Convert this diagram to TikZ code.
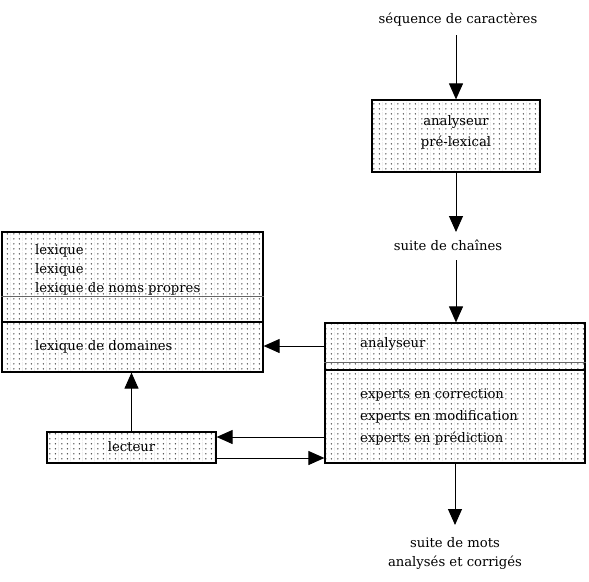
\documentclass[tikz,border=0pt]{standalone}
\usepackage{fontspec}
\setmainfont{DejaVu Serif}
\usetikzlibrary{arrows.meta,patterns.meta}
\tikzdeclarepattern{name=sdots,type=colored,bounding box={(0,0) and (12pt,5pt)},tile size={(12pt,5pt)},
  code={\fill[black] (2pt,2.5pt) circle (0.75pt);\fill[black] (8pt,2.5pt) circle (0.75pt);\draw[black!18,line width=0.4pt] (11pt,0) -- (11pt,5pt);}}
\tikzset{
  box/.style={draw,line width=1.2pt,pattern=sdots,inner sep=0pt},
  txt/.style={font=\fontsize{13.2}{15}\selectfont,inner sep=0pt},
  ltxt/.style={txt,anchor=west},
  arr/.style={line width=1pt,-{Triangle[length=16pt,width=14pt]}},
}
\begin{document}
\begin{tikzpicture}[x=1pt,y=-1pt]
\useasboundingbox (0,0) rectangle (589,581);
% top
\node[txt] (seq) at (458,20) {séquence de caractères};
\node[box,minimum width=168pt,minimum height=72pt] (pre) at (456,136) {};
\node[txt] (pre1) at (456,122) {analyseur};
\node[txt] (pre2) at (456,143) {pré-lexical};
\node[txt] (sc) at (448,245) {suite de chaînes};
% right box
\node[box,minimum width=260pt,minimum height=140pt] (R) at (455,393) {};
\draw[black!60,line width=0.4pt] (R.west |- 0,362) -- (R.east |- 0,362);
\draw[line width=1.2pt] (R.west |- 0,370) -- (R.east |- 0,370);
\node[ltxt] (ra) at (360,344) {analyseur};
\node[ltxt] (rc) at (360,395) {experts en correction};
\node[ltxt] (rm) at (360,417) {experts en modification};
\node[ltxt] (rp) at (360,439) {experts en prédiction};
% left box
\node[box,minimum width=261pt,minimum height=140pt] (L) at (132.5,302) {};
\draw[black!60,line width=0.4pt] (L.west |- 0,296) -- (L.east |- 0,296);
\draw[line width=1.2pt] (L.west |- 0,322) -- (L.east |- 0,322);
\node[ltxt] (l1) at (35,251) {lexique};
\node[ltxt] (l2) at (35,270) {lexique};
\node[ltxt] (l3) at (35,289) {lexique de noms propres};
\node[ltxt] (l4) at (35,347) {lexique de domaines};
% lecteur
\node[box,minimum width=169pt,minimum height=31pt] (lec) at (131.5,447.5) {};
\node[txt] (lect) at (131.5,447) {lecteur};
% bottom
\node[txt,align=center] (sm) at (455,553) {suite de mots\\[4pt]analysés et corrigés};
% arrows
\coordinate (c1) at (0,346);
\coordinate (c2) at (0,437);
\coordinate (c3) at (0,458);
\draw[arr] (456,35) -- (pre.north);
\draw[arr] (pre.south) -- (456,232);
\draw[arr] (456,260) -- (R.north -| 456,0);
\draw[arr] (R.west |- c1) -- (L.east |- c1);
\draw[arr] (lec.north) -- (L.south -| lec.north);
\draw[arr] (R.west |- c2) -- (lec.east |- c2);
\draw[arr] (lec.east |- c3) -- (R.west |- c3);
\draw[arr] (R.south) -- (455,525);
\end{tikzpicture}
\end{document}
